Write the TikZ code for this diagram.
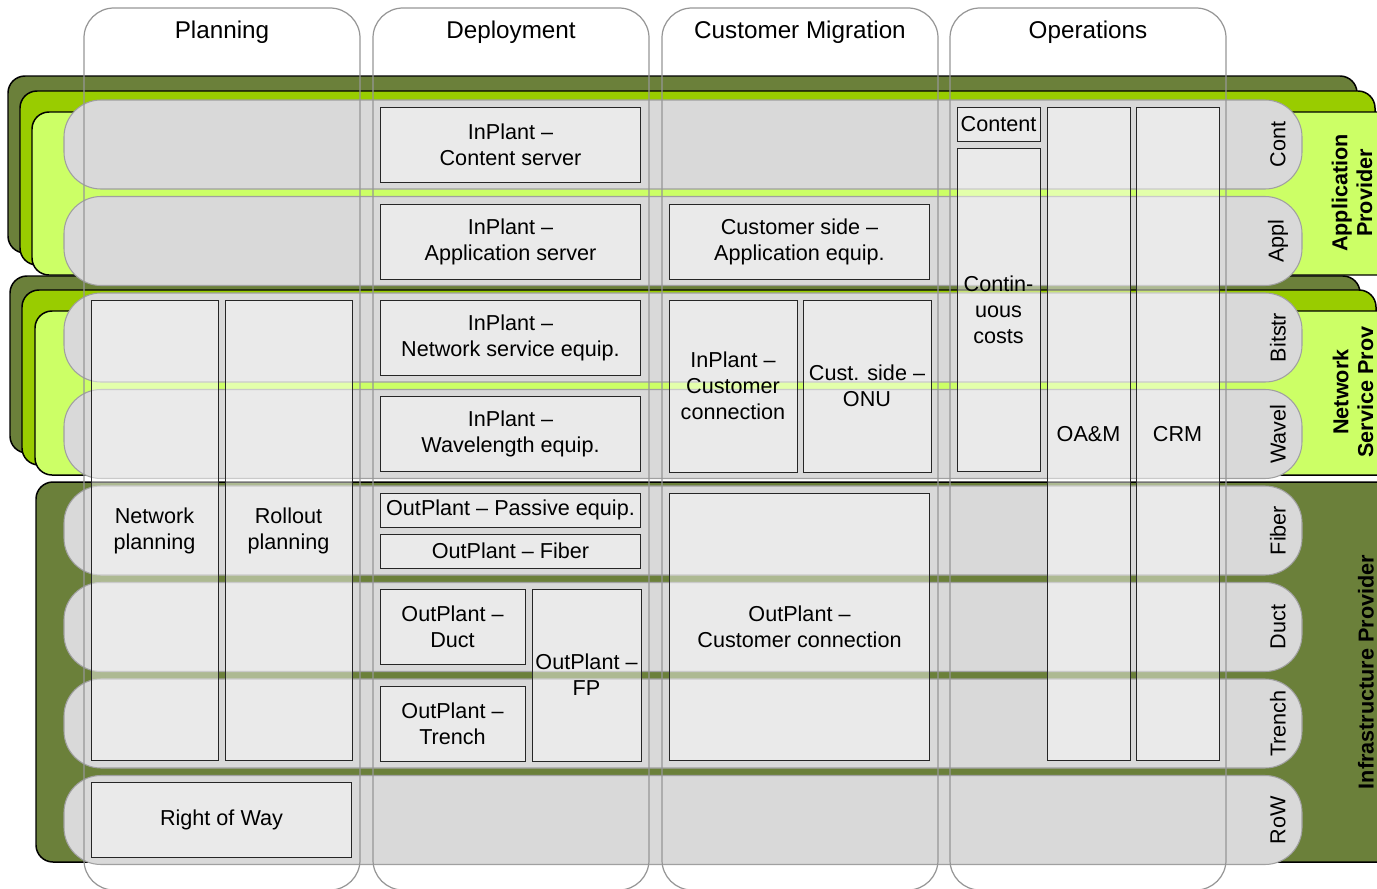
\documentclass[tikz,border=0pt]{standalone}
\usepackage{fontspec}
\setmainfont{Liberation Sans}
\usepackage{xcolor}
\usepackage{tikz}
\usetikzlibrary{positioning}
\definecolor{infragreen}{RGB}{107,128,58}
\definecolor{nspgreen}{RGB}{153,204,0}
\definecolor{appgreen}{RGB}{204,255,102}
\definecolor{lanegray}{RGB}{217,217,217}
\definecolor{laneedge}{RGB}{160,160,160}
\definecolor{phaseedge}{RGB}{150,150,150}

\begin{document}
\begin{tikzpicture}[x=0.02cm,y=-0.02cm,
	layer/.style={draw=black,line width=0.85pt,rounded corners=0.34cm},
	lane/.style={fill=lanegray,draw=laneedge,line width=0.6pt,rounded corners=0.74cm},
	phase/.style={draw=phaseedge,line width=0.7pt,rounded corners=0.6cm},
	item/.style={draw=black!85,line width=0.55pt,fill=white,fill opacity=0.45,text opacity=1,
		align=center,inner sep=0pt,font=\fontsize{12.3}{14.8}\selectfont},
	lanelabel/.style={rotate=90,font=\fontsize{12.3}{14.8}\selectfont},
	rolelabel/.style={rotate=90,align=center,font=\bfseries\fontsize{12.3}{14}\selectfont},
	phaselabel/.style={font=\fontsize{13.8}{16}\selectfont}]
	\useasboundingbox (0,0) rectangle (1377,889);
	\clip (0,0) rectangle (1377,889);
	\draw[layer,fill=infragreen] (8,76) rectangle (1357,253);
	\draw[layer,fill=nspgreen] (20,91) rectangle (1375,265);
	\draw[layer,fill=appgreen] (32,112) rectangle (1420,275);
	\draw[layer,fill=infragreen] (10,276) rectangle (1360,453);
	\draw[layer,fill=nspgreen] (22,290) rectangle (1376,465);
	\draw[layer,fill=appgreen] (35,311) rectangle (1420,475);
	\draw[layer,fill=infragreen] (36,482) rectangle (1420,862);
	\foreach \lbl/\top in {Cont/100,Appl/196.5,Bitstr/293,Wavel/389.5,Fiber/486,Duct/582.5,Trench/679,RoW/775.5}{
		\draw[lane] (64,\top) rectangle (1302,{\top+89});
		\node[lanelabel] (lane-\lbl) at (1278,{\top+44.5}) {\lbl};
	}
	\node[item,minimum width=2.54cm,minimum height=9.22cm] (netplan) at (154.5,530.5) {Network\\planning};
	\node[item,minimum width=2.54cm,minimum height=9.22cm] (rollout) at (288.5,530.5) {Rollout\\planning};
	\node[item,minimum width=5.22cm,minimum height=1.5cm] (rightofway) at (221.5,819.5) {Right of Way};
	\node[item,minimum width=5.22cm,minimum height=1.5cm] (cserver) at (510.5,144.5) {InPlant –\\Content server};
	\node[item,minimum width=5.22cm,minimum height=1.5cm] (aserver) at (510.5,241.5) {InPlant –\\Application server};
	\node[item,minimum width=5.22cm,minimum height=1.5cm] (nsequip) at (510.5,337.5) {InPlant –\\Network service equip.};
	\node[item,minimum width=5.22cm,minimum height=1.5cm] (wlequip) at (510.5,433.5) {InPlant –\\Wavelength equip.};
	\node[item,minimum width=5.22cm,minimum height=0.68cm] (passive) at (510.5,510) {OutPlant – Passive equip.};
	\node[item,minimum width=5.22cm,minimum height=0.68cm] (fiber) at (510.5,551) {OutPlant – Fiber};
	\node[item,minimum width=2.9cm,minimum height=1.5cm] (duct) at (452.5,626.5) {OutPlant –\\Duct};
	\node[item,minimum width=2.9cm,minimum height=1.5cm] (trench) at (452.5,723.5) {OutPlant –\\Trench};
	\node[item,minimum width=2.18cm,minimum height=3.44cm] (fp) at (586.5,675) {OutPlant –\\FP};
	\node[item,minimum width=5.22cm,minimum height=1.5cm] (custapp) at (799.5,241.5) {Customer side –\\Application equip.};
	\node[item,minimum width=2.56cm,minimum height=3.44cm] (custconn) at (733,386) {InPlant –\\Customer\\connection};
	\node[item,minimum width=2.56cm,minimum height=3.44cm] (onu) at (867,386) {Cust. side –\\ONU};
	\node[item,minimum width=5.22cm,minimum height=5.36cm] (outconn) at (799.5,627) {OutPlant –\\Customer connection};
	\node[item,minimum width=1.66cm,minimum height=0.68cm] (content) at (998.5,124) {Content};
	\node[item,minimum width=1.66cm,minimum height=6.48cm] (contcost) at (998.5,310) {Contin-\\uous\\costs};
	\node[item,minimum width=1.66cm,minimum height=13.08cm] (oam) at (1088.5,434) {OA\&M};
	\node[item,minimum width=1.66cm,minimum height=13.08cm] (crm) at (1177.5,434) {CRM};
	\foreach \name/\x in {Planning/84,Deployment/373,Customer Migration/662,Operations/950}{
		\draw[phase] (\x,8) rectangle ({\x+276},890);
		\node[phaselabel] (phase-\x) at ({\x+138},32.5) {\name};
	}
	\node[rolelabel] (approle) at (1352,193) {Application\\Provider};
	\node[rolelabel] (nsprole) at (1353,392) {Network\\Service Prov};
	\node[rolelabel] (infrarole) at (1366,672) {Infrastructure Provider};
\end{tikzpicture}
\end{document}
